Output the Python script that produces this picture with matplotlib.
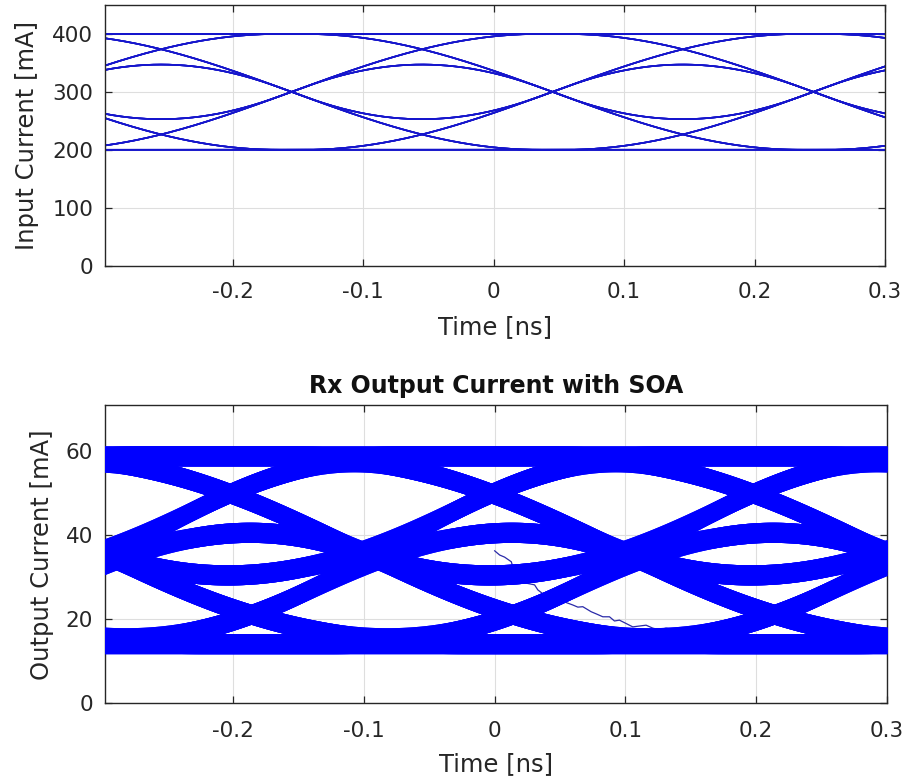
import numpy as np
import matplotlib
matplotlib.use("Agg")
import matplotlib.pyplot as plt

plt.rcParams["font.family"] = ["DejaVu Sans"]
plt.rcParams["axes.unicode_minus"] = False

# Transmitted bit pattern (de Bruijn sequence of order 5, cycled)
bits = [0, 0, 0, 0, 0, 1, 0, 0, 0, 1, 1, 0, 0, 1, 0, 1,
        0, 0, 1, 1, 1, 0, 1, 0, 1, 1, 0, 1, 1, 1, 1, 1]
unit_interval = 0.2          # ns

# Input (drive) current
input_levels = [200.0, 400.0]    # mA for bit 0 / bit 1
input_edge_width = 0.38          # ns, cosine edge duration
input_edge_time = -0.155         # ns, edge centre inside the eye window

# Receiver output current
output_levels = [14.2, 58.9]     # mA
output_rise_width = 0.45         # ns
output_fall_width = 0.53         # ns
output_fall_delay = 0.012        # ns
output_edge_time = -0.1          # ns
output_compression = 0.45        # low-level gain compression of the SOA
output_noise_halfwidth = 2.4     # mA, half thickness of the noisy traces

# Start-up transient of the first output trace
transient_t = [0.0, 0.0038, 0.0076, 0.0127, 0.0153, 0.0204, 0.0242, 0.0305,
               0.033, 0.038, 0.043, 0.046, 0.052, 0.0598, 0.0636, 0.0674,
               0.0738, 0.0776, 0.0827, 0.0878, 0.0916, 0.0954, 0.1005, 0.1056,
               0.1107, 0.1158, 0.1209, 0.126, 0.131, 0.1362, 0.1412, 0.16,
               0.18, 0.204, 0.221]
transient_i = [36.3, 35.3, 34.8, 33.7, 31.0, 29.0, 28.6, 28.2,
               27.0, 25.8, 25.2, 25.4, 24.3, 23.4, 22.9, 23.0,
               21.8, 21.3, 20.6, 20.6, 19.6, 19.8, 19.0, 18.2,
               18.4, 18.6, 17.9, 17.5, 17.9, 17.6, 17.0, 16.6,
               16.2, 15.9, 15.1]

x_ticks = [-0.2, -0.1, 0, 0.1, 0.2, 0.3]
x_ticklabels = ["-0.2", "-0.1", "0", "0.1", "0.2", "0.3"]
input_yticks = [0, 100, 200, 300, 400]
output_yticks = [0, 20, 40, 60]


def cosine_edge(x, width, delay=0.0):
    u = np.clip((x - delay) / width, -0.5, 0.5)
    return 0.5 + 0.5 * np.sin(np.pi * u)


def eye_traces(t, levels, edge_time, rise_w, fall_w, fall_delay=0.0):
    n = len(bits)
    swing = levels[1] - levels[0]
    traces = []
    for start in range(n):
        prev = bits[(start - 5) % n]
        y = np.full_like(t, levels[prev])
        for m in range(-4, 5):
            cur = bits[(start + m) % n]
            e = edge_time + m * unit_interval
            if cur > prev:
                y = y + swing * cosine_edge(t - e, rise_w)
            elif cur < prev:
                y = y - swing * cosine_edge(t - e, fall_w, fall_delay)
            prev = cur
        traces.append(y)
    return traces


t = np.linspace(-0.3, 0.3, 1201)
input_traces = eye_traces(t, input_levels, input_edge_time,
                          input_edge_width, input_edge_width)

lo, hi = output_levels
output_traces = []
for u in eye_traces(t, [0.0, 1.0], output_edge_time, output_rise_width,
                    output_fall_width, output_fall_delay):
    g = u - output_compression * u * (1 - u) ** 2
    output_traces.append(lo + (hi - lo) * g)

fig = plt.figure(figsize=(9.06, 7.8), dpi=100)
ax1 = fig.add_axes([0.1159, 0.6595, 0.8609, 0.3341])
ax2 = fig.add_axes([0.1159, 0.0983, 0.8631, 0.3824])

text_color = "#262626"
for ax in (ax1, ax2):
    ax.set_xlim(-0.298, 0.3)
    ax.set_xticks(x_ticks)
    ax.set_xticklabels(x_ticklabels)
    ax.grid(True, color="#dedede", linewidth=0.8)
    ax.set_axisbelow(True)
    ax.tick_params(direction="in", length=5, width=0.9, colors=text_color,
                   labelsize=15.5, top=True, right=True)
    ax.tick_params(axis="y", pad=8.5)
    for s in ax.spines.values():
        s.set_color(text_color)
        s.set_linewidth(1.0)
ax1.tick_params(axis="x", pad=12)
ax2.tick_params(axis="x", pad=13)

# Input eye
for y in input_traces:
    ax1.plot(t, y, color="#1515cc", linewidth=1.15)
ax1.set_ylim(0, 450)
ax1.set_yticks(input_yticks)
ax1.set_xlabel("Time [ns]", fontsize=17.5, color=text_color)
ax1.set_ylabel("Input Current [mA]", fontsize=17.5, color=text_color)
ax1.xaxis.set_label_coords(0.5, -0.19)
ax1.yaxis.set_label_coords(-0.0846, 0.5)

# Output eye
ax2.plot(transient_t, transient_i, color="#2a2aa8", linewidth=0.9, zorder=2)
for y in output_traces:
    ax2.fill_between(t, y - output_noise_halfwidth, y + output_noise_halfwidth,
                     color="#0000ff", linewidth=0, zorder=3)
ax2.set_ylim(0, 71)
ax2.set_yticks(output_yticks)
ax2.set_xlabel("Time [ns]", fontsize=17.5, color=text_color)
ax2.set_ylabel("Output Current [mA]", fontsize=17.5, color=text_color)
ax2.xaxis.set_label_coords(0.5, -0.164)
ax2.yaxis.set_label_coords(-0.065, 0.5)
ax2.set_title("Rx Output Current with SOA", fontsize=17, fontweight="bold",
              color="#111111", pad=9)

fig.savefig("out.png", dpi=100)
